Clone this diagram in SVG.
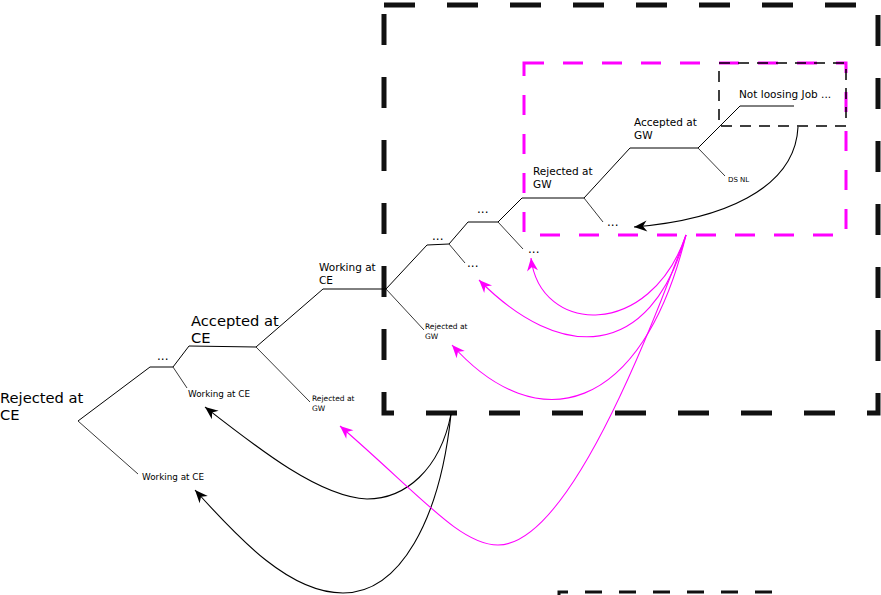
<svg xmlns="http://www.w3.org/2000/svg" width="881" height="595" viewBox="0 0 881 595">
<style>
  text { font-family: "DejaVu Sans", "Liberation Sans", sans-serif; fill: #000; }
  .big { font-size: 14.7px; }
  .mid { font-size: 10.5px; }
  .sm { font-size: 8.8px; }
  .xs { font-size: 7.5px; }
  .dots { font-size: 12px; }
  .tree { fill: none; stroke: #000; stroke-width: 1; }
  .br { fill: none; stroke: #222; stroke-width: 0.9; }
  .arr-k { fill: none; stroke: #000; stroke-width: 1.1; marker-end: url(#ak); }
  .arr-m { fill: none; stroke: #ff00ff; stroke-width: 1.1; marker-end: url(#am); }
</style>
<defs>
  <marker id="ak" viewBox="-14 -7 16 14" refX="0" refY="0" markerWidth="16" markerHeight="14" orient="auto" markerUnits="userSpaceOnUse">
    <path d="M0,0 L-13,-5.5 L-9,0 L-13,5.5 z" fill="#000"/>
  </marker>
  <marker id="am" viewBox="-14 -7 16 14" refX="0" refY="0" markerWidth="16" markerHeight="14" orient="auto" markerUnits="userSpaceOnUse">
    <path d="M0,0 L-13,-5.5 L-9,0 L-13,5.5 z" fill="#ff00ff"/>
  </marker>
</defs>

<g id="frames">
  <rect id="frame-big" x="384" y="5" width="494" height="408" fill="none" stroke="#111" stroke-width="5" stroke-dasharray="31,32"/>
  <rect id="frame-magenta" x="524" y="63" width="322" height="172" fill="none" stroke="#ff00ff" stroke-width="3" stroke-dasharray="20,19"/>
  <rect id="frame-small" x="719" y="63" width="127" height="63" fill="none" stroke="#000" stroke-width="1.5" stroke-dasharray="11,8"/>
  <path id="frame-bottom" d="M559,600 L559,592 L781,592" fill="none" stroke="#111" stroke-width="3" stroke-dasharray="17,17"/>
</g>

<g id="tree-edges">
  <path class="tree" d="M78,421 L150,367 L173,367 L189,346 L256,347 L323,289 L386,289 L427,245 L449,244 L468,222 L498,222 L522,198 L584,198 L630,148 L698,148 L740,106 L794,106"/>
  <path class="br" d="M78,421 L138,474"/>
  <path class="br" d="M173,367 L187,388"/>
  <path class="br" d="M256,347 L310,402"/>
  <path class="br" d="M386,289 L424,330"/>
  <path class="br" d="M449,244 L465,263"/>
  <path class="br" d="M498,222 L523,249"/>
  <path class="br" d="M584,198 L603,222"/>
  <path class="br" d="M698,148 L725,176"/>
</g>

<g id="n-rejected-ce"><text class="big" x="0" y="403">Rejected at</text><text class="big" x="0" y="420">CE</text></g>
<g id="n-accepted-ce"><text class="big" x="191" y="326">Accepted at</text><text class="big" x="191" y="343">CE</text></g>
<g id="n-working-ce"><text class="mid" x="319" y="271">Working at</text><text class="mid" x="319" y="284">CE</text></g>
<g id="n-rejected-gw"><text class="mid" x="533" y="175">Rejected at</text><text class="mid" x="533" y="188">GW</text></g>
<g id="n-accepted-gw"><text class="mid" x="634" y="126">Accepted at</text><text class="mid" x="634" y="139">GW</text></g>
<g id="n-not-loosing"><text class="mid" x="739" y="98">Not loosing Job ...</text></g>
<g id="n-ds-nl"><text x="728" y="182" style="font-size:7px">DS NL</text></g>
<g id="n-working-ce-1"><text class="sm" x="142" y="480">Working at CE</text></g>
<g id="n-working-ce-2"><text class="sm" x="188" y="397">Working at CE</text></g>
<g id="n-rejected-gw-1"><text class="xs" x="312" y="401">Rejected at</text><text class="xs" x="312" y="411">GW</text></g>
<g id="n-rejected-gw-2"><text class="xs" x="425" y="329">Rejected at</text><text class="xs" x="425" y="339">GW</text></g>
<g id="n-dots-1"><text class="dots" x="157" y="359.5">...</text></g>
<g id="n-dots-2"><text class="dots" x="432" y="239.5">...</text></g>
<g id="n-dots-3"><text class="dots" x="477" y="212.5">...</text></g>
<g id="n-dots-4"><text class="dots" x="467" y="266.5">...</text></g>
<g id="n-dots-5"><text class="dots" x="528" y="252.5">...</text></g>
<g id="n-dots-6"><text class="dots" x="607" y="225.5">...</text></g>

<g id="connectors">
  <path class="arr-k" d="M798,127 C795,190 720,220 634,227"/>
  <path class="arr-k" d="M451,414 C440,470 405,499 367,499 C320,497 260,450 205,407"/>
  <path class="arr-k" d="M451,414 C440,520 400,593 343,593 C290,593 240,540 195,490"/>
  <path class="arr-m" d="M686,235 C650,340 540,335 531,258"/>
  <path class="arr-m" d="M686,235 C650,362 560,362 479,280"/>
  <path class="arr-m" d="M686,235 C642,415 537,440 452,345"/>
  <path class="arr-m" d="M686,235 C600,470 540,545 498,545 C460,545 420,495 340,426"/>
</g>
</svg>
